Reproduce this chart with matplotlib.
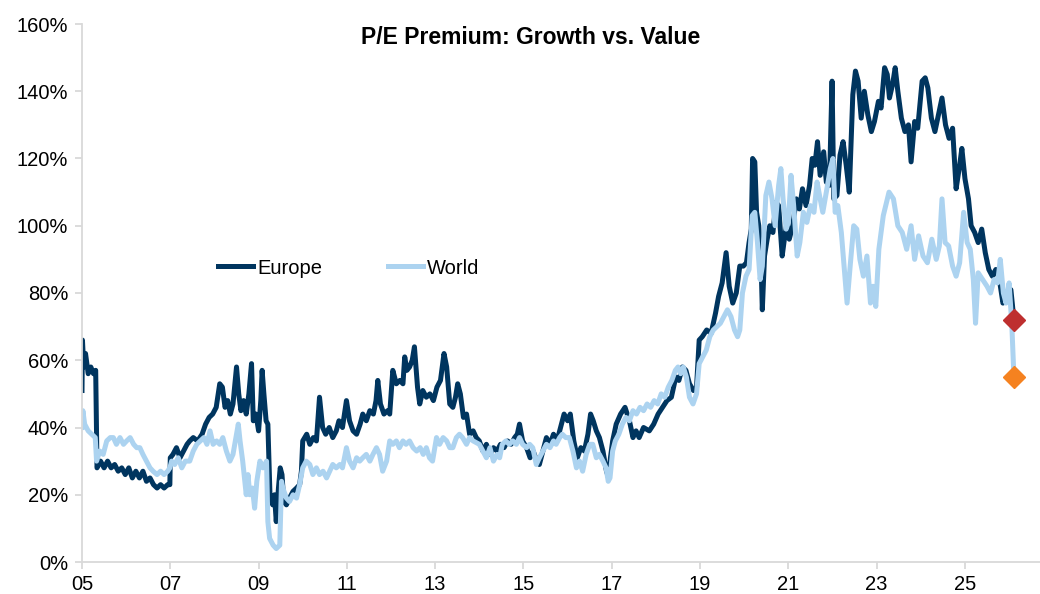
import matplotlib
matplotlib.use('Agg')
import matplotlib.pyplot as plt

#P/E premium of growth over value (year, % premium)
europe = [
    (2005.00, 51), (2005.01, 66), (2005.04, 58), (2005.08, 62), (2005.14, 56), (2005.20, 58),
    (2005.26, 56), (2005.31, 57), (2005.34, 28), (2005.42, 30), (2005.50, 28), (2005.58, 30),
    (2005.66, 28), (2005.74, 29), (2005.82, 27), (2005.90, 28), (2005.98, 26), (2006.06, 28),
    (2006.14, 25), (2006.22, 27), (2006.30, 25), (2006.38, 27), (2006.46, 24), (2006.54, 25),
    (2006.62, 23), (2006.70, 22), (2006.78, 23), (2006.86, 22), (2006.94, 23), (2006.99, 23),
    (2007.00, 31), (2007.06, 32), (2007.14, 34), (2007.22, 31), (2007.30, 33), (2007.38, 35),
    (2007.44, 36), (2007.52, 37), (2007.62, 36), (2007.72, 38), (2007.80, 41), (2007.88, 43),
    (2007.96, 44), (2008.04, 46), (2008.12, 53), (2008.18, 52), (2008.24, 46), (2008.30, 48),
    (2008.36, 44), (2008.42, 47), (2008.50, 58), (2008.55, 50), (2008.60, 45), (2008.66, 48),
    (2008.72, 44), (2008.78, 50), (2008.84, 59), (2008.88, 42), (2008.94, 44), (2009.00, 39),
    (2009.05, 48), (2009.08, 57), (2009.12, 50), (2009.17, 42), (2009.21, 41), (2009.26, 19),
    (2009.32, 17), (2009.36, 20), (2009.40, 12), (2009.45, 22), (2009.49, 28), (2009.53, 26),
    (2009.57, 18), (2009.63, 17), (2009.70, 19), (2009.78, 21), (2009.86, 22), (2009.93, 23),
    (2009.97, 27), (2010.00, 36), (2010.09, 38), (2010.16, 35), (2010.24, 37), (2010.31, 36),
    (2010.38, 49), (2010.45, 40), (2010.52, 38), (2010.60, 40), (2010.68, 37), (2010.76, 39),
    (2010.82, 42), (2010.90, 40), (2010.99, 48), (2011.06, 42), (2011.14, 39), (2011.22, 38),
    (2011.30, 41), (2011.36, 44), (2011.44, 42), (2011.52, 45), (2011.60, 44), (2011.66, 48),
    (2011.70, 54), (2011.76, 47), (2011.84, 44), (2011.92, 45), (2011.97, 44), (2012.04, 57),
    (2012.12, 53), (2012.20, 54), (2012.27, 53), (2012.31, 61), (2012.36, 57), (2012.42, 58),
    (2012.48, 60), (2012.53, 64), (2012.60, 52), (2012.65, 47), (2012.72, 51), (2012.80, 49),
    (2012.88, 50), (2012.96, 48), (2013.04, 52), (2013.12, 54), (2013.20, 62), (2013.26, 58),
    (2013.33, 47), (2013.40, 46), (2013.46, 49), (2013.51, 53), (2013.57, 50), (2013.64, 43),
    (2013.71, 44), (2013.78, 38), (2013.86, 39), (2013.93, 37), (2014.00, 36), (2014.08, 33),
    (2014.16, 35), (2014.24, 32), (2014.32, 34), (2014.40, 33), (2014.48, 35), (2014.56, 34),
    (2014.64, 36), (2014.72, 35), (2014.80, 37), (2014.86, 38), (2014.91, 41), (2014.98, 36),
    (2015.07, 34), (2015.15, 31), (2015.22, 33), (2015.30, 30), (2015.36, 29), (2015.44, 33),
    (2015.52, 37), (2015.60, 35), (2015.68, 38), (2015.76, 36), (2015.84, 40), (2015.92, 44),
    (2016.00, 42), (2016.06, 44), (2016.14, 36), (2016.22, 31), (2016.30, 34), (2016.38, 33),
    (2016.46, 38), (2016.52, 44), (2016.58, 42), (2016.65, 39), (2016.72, 37), (2016.80, 33),
    (2016.88, 27), (2016.93, 25), (2016.97, 31), (2017.02, 36), (2017.10, 41), (2017.20, 44),
    (2017.30, 46), (2017.40, 42), (2017.48, 37), (2017.55, 39), (2017.62, 37), (2017.72, 40),
    (2017.85, 39), (2017.95, 41), (2018.05, 44), (2018.15, 46), (2018.25, 48), (2018.35, 49),
    (2018.45, 55), (2018.52, 54), (2018.60, 58), (2018.68, 57), (2018.76, 53), (2018.85, 51),
    (2018.92, 52), (2018.98, 66), (2019.05, 67), (2019.15, 69), (2019.25, 68), (2019.35, 74),
    (2019.42, 79), (2019.50, 83), (2019.59, 92), (2019.66, 82), (2019.74, 77), (2019.82, 80),
    (2019.90, 88), (2019.98, 88), (2020.05, 89), (2020.11, 95), (2020.16, 99), (2020.19, 120),
    (2020.24, 119), (2020.28, 104), (2020.33, 100), (2020.38, 90), (2020.41, 75), (2020.46, 91),
    (2020.52, 96), (2020.58, 100), (2020.65, 98), (2020.72, 107), (2020.78, 106), (2020.86, 91),
    (2020.92, 97), (2020.97, 101), (2021.02, 96), (2021.10, 100), (2021.18, 108), (2021.25, 105),
    (2021.32, 111), (2021.40, 106), (2021.48, 112), (2021.54, 120), (2021.60, 118), (2021.66, 125),
    (2021.72, 115), (2021.80, 122), (2021.86, 113), (2021.93, 112), (2021.99, 143), (2022.03, 108),
    (2022.10, 109), (2022.17, 121), (2022.24, 125), (2022.31, 118), (2022.38, 110), (2022.46, 139),
    (2022.52, 146), (2022.58, 143), (2022.65, 132), (2022.72, 140), (2022.80, 133), (2022.88, 128),
    (2022.95, 131), (2023.04, 137), (2023.10, 135), (2023.18, 147), (2023.24, 145), (2023.29, 138),
    (2023.36, 142), (2023.42, 147), (2023.48, 140), (2023.56, 132), (2023.64, 128), (2023.72, 130),
    (2023.78, 119), (2023.86, 131), (2023.93, 129), (2024.03, 143), (2024.10, 144), (2024.16, 141),
    (2024.24, 132), (2024.32, 128), (2024.40, 133), (2024.48, 138), (2024.56, 130), (2024.64, 126),
    (2024.72, 129), (2024.80, 111), (2024.88, 118), (2024.93, 123), (2025.00, 114), (2025.08, 108),
    (2025.14, 100), (2025.22, 98), (2025.30, 95), (2025.38, 99), (2025.46, 92), (2025.54, 87),
    (2025.62, 85), (2025.70, 87), (2025.78, 84), (2025.86, 77), (2025.94, 79), (2026.04, 81),
    (2026.08, 76), (2026.11, 72),
]

world = [
    (2005.00, 40), (2005.02, 45), (2005.06, 41), (2005.14, 39), (2005.22, 38), (2005.30, 37),
    (2005.33, 30), (2005.40, 33), (2005.48, 32), (2005.56, 36), (2005.64, 37), (2005.71, 37),
    (2005.78, 35), (2005.86, 37), (2005.94, 35), (2006.01, 36), (2006.09, 37), (2006.17, 35),
    (2006.24, 34), (2006.31, 34), (2006.38, 32), (2006.46, 30), (2006.54, 28), (2006.61, 27),
    (2006.70, 26), (2006.78, 27), (2006.86, 26), (2006.94, 27), (2006.99, 28), (2007.03, 30),
    (2007.10, 29), (2007.18, 31), (2007.26, 28), (2007.34, 30), (2007.44, 30), (2007.52, 33),
    (2007.60, 35), (2007.68, 36), (2007.76, 37), (2007.83, 35), (2007.90, 39), (2007.97, 35),
    (2008.05, 36), (2008.12, 35), (2008.19, 37), (2008.27, 33), (2008.35, 30), (2008.42, 32),
    (2008.50, 38), (2008.54, 41), (2008.58, 36), (2008.64, 30), (2008.72, 20), (2008.76, 26),
    (2008.80, 20), (2008.86, 22), (2008.91, 16), (2008.96, 24), (2009.03, 30), (2009.10, 28),
    (2009.18, 30), (2009.21, 12), (2009.25, 7), (2009.33, 5), (2009.40, 4), (2009.48, 5),
    (2009.52, 24), (2009.55, 22), (2009.63, 19), (2009.70, 18), (2009.78, 20), (2009.86, 19),
    (2009.93, 23), (2010.00, 28), (2010.08, 30), (2010.16, 29), (2010.23, 26), (2010.31, 28),
    (2010.38, 26), (2010.46, 27), (2010.54, 25), (2010.61, 27), (2010.68, 29), (2010.76, 28),
    (2010.84, 29), (2010.90, 28), (2010.99, 34), (2011.06, 30), (2011.14, 28), (2011.22, 31),
    (2011.29, 30), (2011.36, 31), (2011.44, 32), (2011.52, 30), (2011.59, 32), (2011.67, 34),
    (2011.74, 32), (2011.81, 27), (2011.90, 30), (2011.97, 36), (2012.04, 35), (2012.12, 36),
    (2012.19, 34), (2012.27, 36), (2012.34, 35), (2012.42, 36), (2012.50, 34), (2012.58, 33),
    (2012.66, 34), (2012.73, 32), (2012.80, 34), (2012.87, 31), (2012.94, 30), (2013.03, 37),
    (2013.10, 35), (2013.18, 37), (2013.26, 36), (2013.33, 34), (2013.40, 34), (2013.48, 37),
    (2013.55, 38), (2013.62, 37), (2013.71, 35), (2013.78, 37), (2013.86, 36), (2014.00, 35),
    (2014.08, 33), (2014.16, 31), (2014.24, 34), (2014.32, 30), (2014.40, 32), (2014.46, 31),
    (2014.52, 35), (2014.60, 36), (2014.68, 35), (2014.76, 36), (2014.84, 35), (2014.91, 37),
    (2014.98, 35), (2015.07, 34), (2015.14, 35), (2015.21, 34), (2015.29, 29), (2015.36, 31),
    (2015.44, 33), (2015.52, 35), (2015.60, 34), (2015.68, 36), (2015.74, 35), (2015.82, 37),
    (2015.88, 38), (2015.96, 37), (2016.04, 37), (2016.12, 33), (2016.20, 28), (2016.27, 30),
    (2016.34, 27), (2016.42, 32), (2016.50, 35), (2016.57, 35), (2016.65, 31), (2016.72, 32),
    (2016.80, 30), (2016.87, 28), (2016.92, 24), (2016.96, 25), (2017.02, 33), (2017.08, 36),
    (2017.16, 38), (2017.24, 41), (2017.32, 43), (2017.40, 42), (2017.48, 45), (2017.56, 44),
    (2017.64, 46), (2017.72, 45), (2017.80, 47), (2017.88, 46), (2017.96, 48), (2018.04, 47),
    (2018.12, 50), (2018.20, 49), (2018.28, 52), (2018.36, 54), (2018.44, 57), (2018.50, 58),
    (2018.56, 56), (2018.62, 58), (2018.69, 55), (2018.76, 49), (2018.84, 47), (2018.92, 50),
    (2018.98, 59), (2019.06, 61), (2019.14, 63), (2019.22, 67), (2019.30, 69), (2019.38, 70),
    (2019.46, 71), (2019.54, 73), (2019.62, 75), (2019.70, 73), (2019.78, 69), (2019.85, 67),
    (2019.90, 69), (2019.96, 80), (2020.04, 85), (2020.11, 87), (2020.18, 103), (2020.24, 104),
    (2020.30, 95), (2020.36, 84), (2020.41, 88), (2020.49, 109), (2020.56, 113), (2020.63, 108),
    (2020.70, 100), (2020.78, 112), (2020.83, 117), (2020.88, 108), (2020.95, 99), (2021.00, 101),
    (2021.06, 115), (2021.12, 106), (2021.20, 91), (2021.26, 95), (2021.34, 104), (2021.42, 101),
    (2021.50, 106), (2021.58, 104), (2021.65, 113), (2021.72, 108), (2021.78, 104), (2021.86, 110),
    (2021.95, 117), (2022.01, 120), (2022.06, 104), (2022.12, 106), (2022.20, 98), (2022.28, 85),
    (2022.33, 77), (2022.40, 88), (2022.48, 100), (2022.55, 99), (2022.62, 90), (2022.70, 85),
    (2022.78, 91), (2022.86, 77), (2022.92, 82), (2022.98, 76), (2023.05, 93), (2023.15, 103),
    (2023.28, 110), (2023.38, 108), (2023.48, 100), (2023.58, 98), (2023.68, 93), (2023.78, 100),
    (2023.86, 90), (2023.95, 97), (2024.05, 91), (2024.15, 89), (2024.25, 96), (2024.35, 90),
    (2024.42, 94), (2024.48, 108), (2024.55, 95), (2024.63, 94), (2024.72, 88), (2024.80, 85),
    (2024.88, 89), (2024.97, 104), (2025.05, 95), (2025.12, 93), (2025.19, 84), (2025.24, 71),
    (2025.30, 86), (2025.40, 84), (2025.50, 82), (2025.58, 80), (2025.66, 84), (2025.74, 83),
    (2025.80, 90), (2025.87, 80), (2025.93, 77), (2026.00, 83), (2026.06, 71), (2026.11, 55),
]

tick_years = [2005, 2007, 2009, 2011, 2013, 2015, 2017, 2019, 2021, 2023, 2025]
tick_labels = ['05', '07', '09', '11', '13', '15', '17', '19', '21', '23', '25']
y_ticks = [0, 20, 40, 60, 80, 100, 120, 140, 160]

plt.rcParams['font.family'] = ['Liberation Sans', 'DejaVu Sans']
plt.rcParams['font.size'] = 14.5

fig = plt.figure(figsize=(10.4, 5.94), dpi=100)
ax = fig.add_axes([82/1040, 1 - 562/594, 958/1040, 538/594])

eu_x = [p[0] for p in europe]
eu_y = [p[1] for p in europe]
wo_x = [p[0] for p in world]
wo_y = [p[1] for p in world]

ax.plot(eu_x, eu_y, color='#00355f', lw=3.6, label='Europe', solid_joinstyle='round')
ax.plot(wo_x, wo_y, color='#acd3f0', lw=3.6, label='World', solid_joinstyle='round')

#latest values highlighted with diamonds
ax.plot(eu_x[-1], eu_y[-1], marker='D', color='#be2f2f', markersize=11, ls='none')
ax.plot(wo_x[-1], wo_y[-1], marker='D', color='#f58220', markersize=11, ls='none')

ax.set_xlim(2005, 2026.70)
ax.set_ylim(0, 160)
ax.set_xticks(tick_years)
ax.set_xticklabels(tick_labels)
ax.set_yticks(y_ticks)
ax.set_yticklabels([str(v) + '%' for v in y_ticks])

for side in ['top', 'right']:
    ax.spines[side].set_visible(False)
for side in ['left', 'bottom']:
    ax.spines[side].set_color('#d9d9d9')
    ax.spines[side].set_linewidth(1.3)
ax.tick_params(axis='both', colors='#d9d9d9', labelcolor='black', length=5, width=1.3)
ax.tick_params(axis='y', pad=5)
ax.tick_params(axis='x', pad=4)

ax.text(0.468, 0.974, 'P/E Premium: Growth vs. Value', transform=ax.transAxes,
        ha='center', va='center', fontweight='bold', fontsize=16.5)

ax.legend(loc='center left', bbox_to_anchor=((218 - 82) / 958, (562 - 268) / 538),
          ncol=2, frameon=False, borderpad=0, handlelength=1.75, handletextpad=0.2,
          columnspacing=3.25, borderaxespad=0)

plt.savefig('out.png', dpi=100)
plt.close()
